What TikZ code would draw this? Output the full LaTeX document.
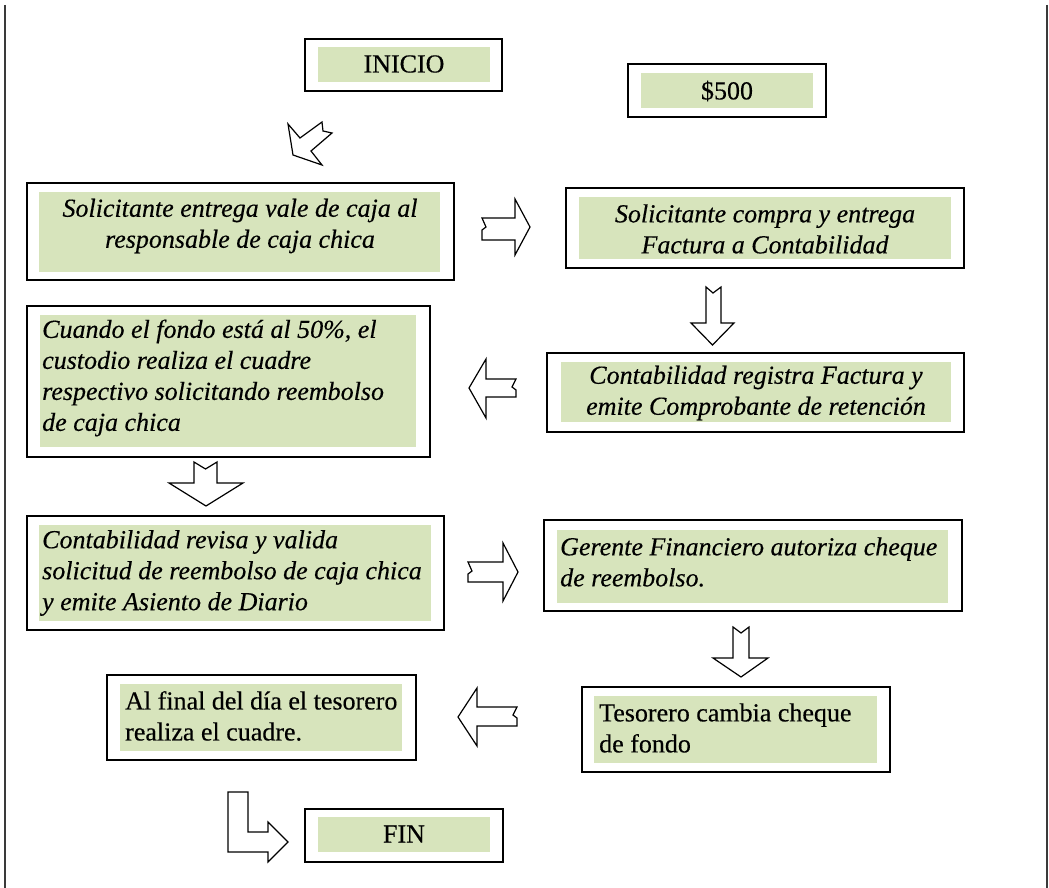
\documentclass[tikz,border=0pt]{standalone}
\usepackage{fontspec}
\setmainfont{Liberation Serif}[FakeBold=0.35]
\usetikzlibrary{fit}
\definecolor{boxgreen}{HTML}{D7E4BC}
\definecolor{framegrey}{HTML}{3A3A3A}
\tikzset{
  outerbox/.style={draw=black, line width=1.8pt, inner sep=0pt},
  greenbox/.style={fill=boxgreen, draw=none, inner sep=0pt},
  txt/.style={font=\fontsize{26}{31}\selectfont, inner sep=0pt, text=black},
  itxt/.style={txt, font=\fontsize{26}{31}\selectfont\itshape},
  blockarrow/.style={draw=black, fill=white, line width=1.2pt, line join=miter},
  frameline/.style={draw=framegrey, line width=2pt}
}
% one flowchart box: name, outer corners, inner (green) corners
\newcommand{\flowbox}[9]{%
  \node[greenbox, fit={(#6,#7) (#8,#9)}] (#1-in) {};
  \node[outerbox, fit={(#2,#3) (#4,#5)}] (#1) {};
}
\begin{document}
\begin{tikzpicture}[x=1pt,y=-1pt]
\useasboundingbox (0,0) rectangle (1049,888);

% page frame lines
\coordinate (lt) at (5,5);   \coordinate (lb) at (5,888);
\coordinate (rt) at (1047,5); \coordinate (rb) at (1047,888);
\draw[frameline] (lt) -- (lb);
\draw[frameline] (rt) -- (rb);

% boxes
\flowbox{ini}{305}{39}{502}{91}{318}{47}{490}{82}
\flowbox{cash}{628}{64}{826}{117}{641}{73}{813}{108}
\flowbox{b1}{27}{183}{454}{280}{39}{192}{440}{272}
\flowbox{b2}{566}{188}{964}{268}{579}{197}{951}{259}
\flowbox{b3}{547}{353}{964}{432}{561}{362}{951}{422}
\flowbox{b4}{27}{306}{430}{457}{40}{315}{416}{447}
\flowbox{b5}{27}{516}{444}{630}{39}{525}{431}{621}
\flowbox{b6}{544}{520}{962}{611}{557}{530}{948}{603}
\flowbox{b7}{582}{687}{890}{772}{594}{696}{877}{763}
\flowbox{b8}{107}{675}{416}{760}{120}{684}{402}{751}
\flowbox{fin}{305}{809}{503}{862}{318}{817}{490}{852}

% texts
\node[txt] (t-ini) at (404,64) {INICIO};
\node[txt] (t-cash) at (727,91) {\$500};
\node[itxt, align=center] (t1) at (240,226) {Solicitante entrega vale de caja al\\responsable de caja chica};
\node[itxt, align=center] (t2) at (765,229) {Solicitante compra y entrega\\Factura a Contabilidad};
\node[itxt, align=center] (t3) at (756,393) {Contabilidad registra Factura y\\emite Comprobante de retención};
\node[itxt, align=left, anchor=west] (t4) at (42,378) {Cuando el fondo está al 50\%, el\\custodio realiza el cuadre\\respectivo solicitando reembolso\\de caja chica};
\node[itxt, align=left, anchor=west] (t5) at (42,573) {Contabilidad revisa y valida\\solicitud de reembolso de caja chica\\y emite Asiento de Diario};
\node[itxt, align=left, anchor=west] (t6) at (560,562) {Gerente Financiero autoriza cheque\\de reembolso.};
\node[txt, align=left, anchor=west] (t7) at (599,728) {Tesorero cambia cheque\\de fondo};
\node[txt, align=left, anchor=west] (t8) at (125,716) {Al final del día el tesorero\\realiza el cuadre.};
\node[txt] (t-fin) at (404,834) {FIN};

% block arrows
% start -> first step (diagonal)
\draw[blockarrow] (288,124) -- (293,155) -- (322,165) -- (311,151) -- (332,133)
  -- (323,131) -- (322,122) -- (300,138) -- cycle;
% b1 -> b2
\draw[blockarrow] (482,218) -- (515,218) -- (515,199) -- (530,227) -- (515,255)
  -- (515,240) -- (482,240) -- (482,230) -- (486,227) -- cycle;
% b2 -> b3
\draw[blockarrow] (706,287) -- (713,293) -- (721,287) -- (721,323) -- (734,323)
  -- (712.5,345) -- (691,323) -- (706,323) -- cycle;
% b3 -> b4
\draw[blockarrow] (516,379) -- (486,379) -- (486,359) -- (469,388) -- (486,418)
  -- (486,397) -- (516,397) -- (516,390) -- (512,387) -- cycle;
% b4 -> b5
\draw[blockarrow] (194,462) -- (205.5,469) -- (217,462) -- (217,483) -- (243,483)
  -- (206,506) -- (169,483) -- (194,483) -- cycle;
% b5 -> b6
\draw[blockarrow] (468,562) -- (503,562) -- (503,543) -- (518,572) -- (503,601)
  -- (503,582) -- (468,582) -- (468,574) -- (472,571) -- cycle;
% b6 -> b7
\draw[blockarrow] (733,627) -- (741,633) -- (749,627) -- (749,658) -- (768,658)
  -- (741,677) -- (713,658) -- (733,658) -- cycle;
% b7 -> b8
\draw[blockarrow] (517,707) -- (477,707) -- (477,688) -- (458,717) -- (477,746)
  -- (477,726) -- (517,726) -- (517,718) -- (513,715) -- cycle;
% b8 -> end (bent arrow)
\draw[blockarrow] (228,792) -- (248,792) -- (248,832) -- (268,832) -- (268,822)
  -- (288,842) -- (268,862) -- (268,852) -- (228,852) -- cycle;
\end{tikzpicture}
\end{document}
